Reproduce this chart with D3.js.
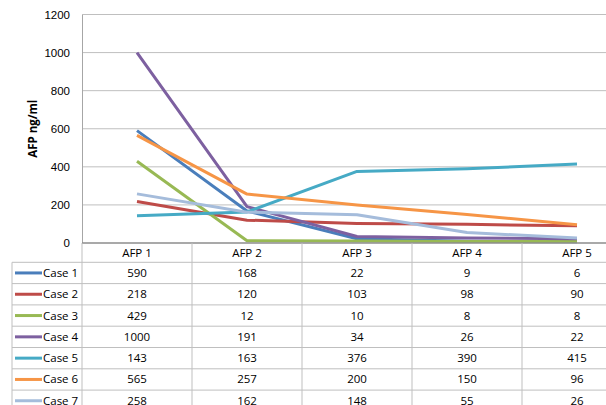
<!DOCTYPE html>
<html>
<head>
<meta charset="utf-8">
<script src="https://cdn.jsdelivr.net/npm/d3@7"></script>
<style>
  body { margin: 0; background: #fff; }
  svg { display: block; font-family: 'Open Sans', sans-serif; }
</style>
</head>
<body>
<svg id="chart"></svg>
<script>
// values
const categories = ['AFP 1', 'AFP 2', 'AFP 3', 'AFP 4', 'AFP 5'];
const seriesNames = ['Case 1', 'Case 2', 'Case 3', 'Case 4', 'Case 5', 'Case 6', 'Case 7'];
const case1 = [590, 168, 22, 9, 6];
const case2 = [218, 120, 103, 98, 90];
const case3 = [429, 12, 10, 8, 8];
const case4 = [1000, 191, 34, 26, 22];
const case5 = [143, 163, 376, 390, 415];
const case6 = [565, 257, 200, 150, 96];
const case7 = [258, 162, 148, 55, 26];
const yTicks = [0, 200, 400, 600, 800, 1000, 1200];
const colors = ['#4a7ebb', '#be4b48', '#98b954', '#7d60a0', '#46aac5', '#f69546', '#a5bcdb'];

const allSeries = [case1, case2, case3, case4, case5, case6, case7];

const width = 606, height = 405;
const margin = { top: 14.5, left: 82, bottom: 243 };
const plotRight = 632;           // plot runs past the visible right edge
const rowH = 21.3;
const legendLeft = 12;
const headerBottom = 262.3;

const svg = d3.select('#chart')
    .attr('width', width)
    .attr('height', height);

const x = d3.scaleBand()
    .domain(categories)
    .range([margin.left, plotRight]);

const y = d3.scaleLinear()
    .domain([0, 1200])
    .range([margin.bottom, margin.top]);

// gridlines
svg.append('g')
    .selectAll('line')
    .data(yTicks.filter(d => d > 0))
    .join('line')
    .attr('x1', margin.left)
    .attr('x2', plotRight)
    .attr('y1', d => y(d))
    .attr('y2', d => y(d))
    .attr('stroke', '#bfbfbf')
    .attr('stroke-width', 1);

// y axis
const yaxis = d3.axisLeft(y)
    .tickValues(yTicks)
    .tickFormat(d3.format('d'))
    .tickSize(0)
    .tickPadding(12);

const yg = svg.append('g')
    .attr('transform', `translate(${margin.left},0)`)
    .call(yaxis);
yg.select('.domain').attr('stroke', '#a6a6a6');
yg.selectAll('text')
    .attr('font-size', 11.5)
    .attr('fill', '#000');

svg.append('text')
    .attr('transform', `translate(37, ${(margin.top + margin.bottom) / 2}) rotate(-90)`)
    .attr('text-anchor', 'middle')
    .attr('font-size', 11.5)
    .attr('font-weight', 'bold')
    .text('AFP ng/ml');

// lines
const line = d3.line()
    .x((d, i) => x(categories[i]) + x.bandwidth() / 2)
    .y(d => y(d));

svg.append('g')
    .selectAll('path')
    .data(allSeries)
    .join('path')
    .attr('d', d => line(d))
    .attr('fill', 'none')
    .attr('stroke', (d, i) => colors[i])
    .attr('stroke-width', 3)
    .attr('stroke-linejoin', 'round');

// category axis line
svg.append('line')
    .attr('x1', margin.left)
    .attr('x2', plotRight)
    .attr('y1', margin.bottom)
    .attr('y2', margin.bottom)
    .attr('stroke', '#8c8c8c')
    .attr('stroke-width', 1.5);

// data table
const table = svg.append('g');
const tableBottom = headerBottom + rowH * seriesNames.length;

// vertical dividers
table.selectAll('line.v')
    .data(categories.map(c => x(c)).concat([plotRight]))
    .join('line')
    .attr('class', 'v')
    .attr('x1', d => d)
    .attr('x2', d => d)
    .attr('y1', margin.bottom)
    .attr('y2', tableBottom + 5)
    .attr('stroke', '#bfbfbf');

table.append('line')
    .attr('x1', legendLeft)
    .attr('x2', legendLeft)
    .attr('y1', headerBottom)
    .attr('y2', tableBottom + 5)
    .attr('stroke', '#bfbfbf');

// horizontal dividers
table.selectAll('line.h')
    .data(d3.range(seriesNames.length + 1))
    .join('line')
    .attr('class', 'h')
    .attr('x1', legendLeft)
    .attr('x2', plotRight)
    .attr('y1', i => headerBottom + i * rowH)
    .attr('y2', i => headerBottom + i * rowH)
    .attr('stroke', '#bfbfbf');

// header labels
table.selectAll('text.head')
    .data(categories)
    .join('text')
    .attr('class', 'head')
    .attr('x', d => x(d) + x.bandwidth() / 2)
    .attr('y', (margin.bottom + headerBottom) / 2 + 4)
    .attr('text-anchor', 'middle')
    .attr('font-size', 11.5)
    .text(d => d);

// rows
const rows = table.selectAll('g.row')
    .data(allSeries)
    .join('g')
    .attr('class', 'row')
    .attr('transform', (d, i) => `translate(0, ${headerBottom + rowH * (i + 0.5)})`);

rows.append('line')
    .attr('x1', 15)
    .attr('x2', 42)
    .attr('y1', 0)
    .attr('y2', 0)
    .attr('stroke', (d, i) => colors[i])
    .attr('stroke-width', 3);

rows.append('text')
    .attr('x', 43)
    .attr('y', 4)
    .attr('font-size', 11.5)
    .text((d, i) => seriesNames[i]);

rows.selectAll('text.val')
    .data(d => d)
    .join('text')
    .attr('class', 'val')
    .attr('x', (d, i) => x(categories[i]) + x.bandwidth() / 2)
    .attr('y', 4)
    .attr('text-anchor', 'middle')
    .attr('font-size', 11.5)
    .text(d => d);
</script>
</body>
</html>
